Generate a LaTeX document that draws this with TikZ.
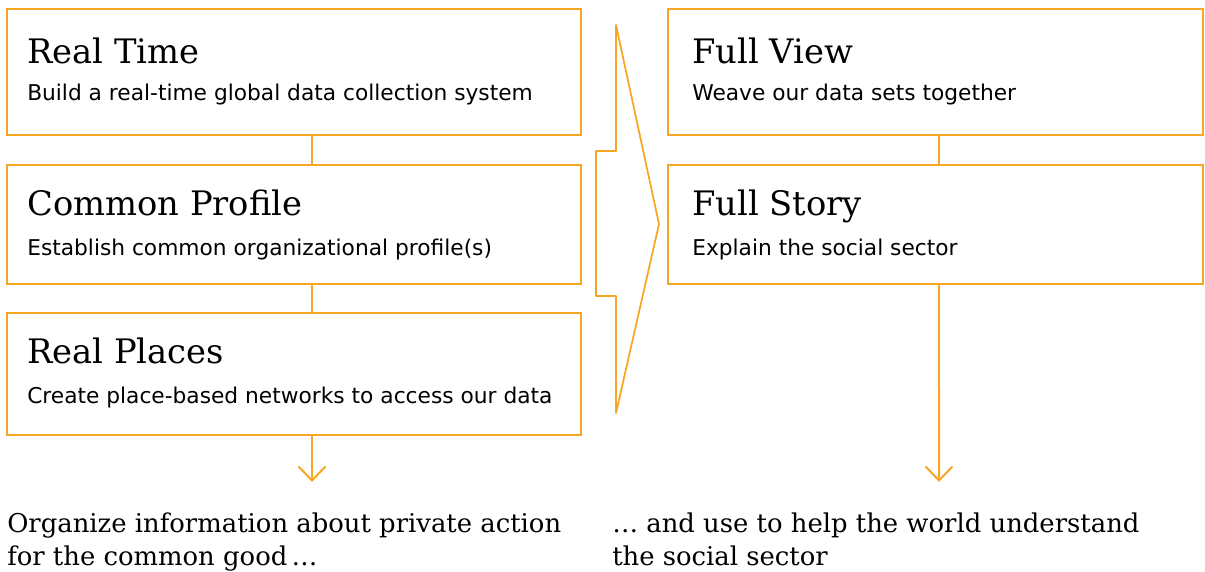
\documentclass[tikz,border=0pt]{standalone}
\usepackage{fontspec}
\setmainfont{DejaVu Serif}
\newfontfamily\plainsans{DejaVu Sans}
\usetikzlibrary{arrows.meta}
\definecolor{amber}{RGB}{246,166,35}

\begin{document}
\begin{tikzpicture}[x=0.75pt,y=-0.75pt,
    box/.style={draw=amber,line width=1.5pt,inner sep=0pt},
    lbox/.style={box,minimum width=430.5pt},
    rbox/.style={box,minimum width=401.25pt},
    title/.style={anchor=base west,inner sep=0pt,font=\fontsize{25.3}{30}\selectfont},
    sub/.style={anchor=base west,inner sep=0pt,font=\plainsans\fontsize{16.3}{18}\selectfont},
    goal/.style={anchor=base west,inner sep=0pt,align=left,font=\fontsize{19.4}{24.75}\selectfont},
    link/.style={draw=amber,line width=1.5pt}]
    \useasboundingbox (0,0) rectangle (1205,571);
    \node[lbox,minimum height=94.5pt] (RT) at (294,72) {};
    \node[lbox,minimum height=89.25pt] (CP) at (294,224.5) {};
    \node[lbox,minimum height=91.5pt] (RP) at (294,374) {};
    \node[rbox,minimum height=94.5pt] (FV) at (935.5,72) {};
    \node[rbox,minimum height=89.25pt] (FS) at (935.5,224.5) {};
    \node[title] (RTt) at (27,63) {Real Time};
    \node[sub] (RTs) at (27,100) {Build a real-time global data collection system};
    \node[title] (CPt) at (27,215) {Common Profile};
    \node[sub] (CPs) at (27,255) {Establish common organizational profile(s)};
    \node[title] (RPt) at (27,363) {Real Places};
    \node[sub] (RPs) at (27,403) {Create place-based networks to access our data};
    \node[title] (FVt) at (692,63) {Full View};
    \node[sub] (FVs) at (692,100) {Weave our data sets together};
    \node[title] (FSt) at (692,215) {Full Story};
    \node[sub] (FSs) at (692,255) {Explain the social sector};
    \node[goal] (lgoal) at (7,565) {Organize information about private action\\for the common good\,\dots};
    \node[goal] (rgoal) at (612,565) {\dots\ and use to help the world understand\\the social sector};
    \coordinate (lend) at (312,482);
    \coordinate (rend) at (939,482);
    \draw[link] ([xshift=13.5pt]RT.south) -- ([xshift=13.5pt]CP.north);
    \draw[link] ([xshift=13.5pt]CP.south) -- ([xshift=13.5pt]RP.north);
    \draw[link] ([xshift=2.6pt]FV.south) -- ([xshift=2.6pt]FS.north);
    \draw[link,-{Straight Barb[length=10.5pt,width=20pt]}] ([xshift=13.5pt]RP.south) -- (lend);
    \draw[link,-{Straight Barb[length=10.5pt,width=20pt]}] ([xshift=2.6pt]FS.south) -- (rend);
    \draw[link,line width=1.3pt,line join=round] (616,25) -- (616,151) -- (596,151) -- (596,296)
        -- (616,296) -- (616,413) -- (659,224) -- cycle;
\end{tikzpicture}
\end{document}
